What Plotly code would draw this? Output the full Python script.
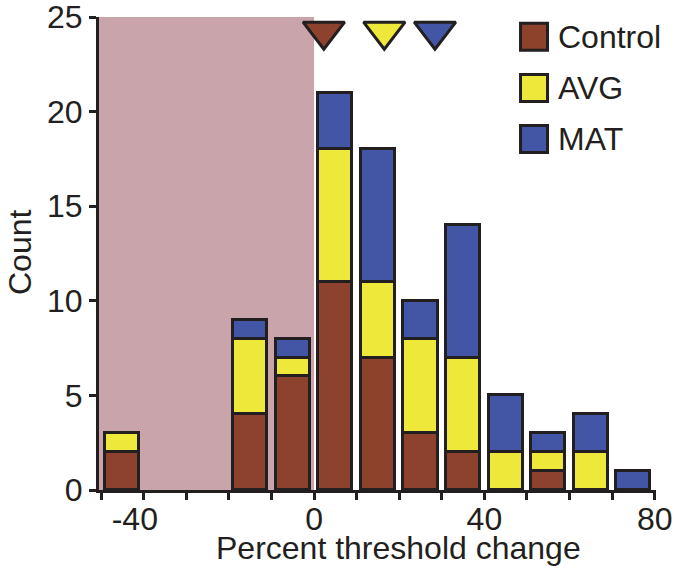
import plotly.graph_objects as go

# ---- data ----
bin_centers = [-45, -35, -25, -15, -5, 5, 15, 25, 35, 45, 55, 65, 75]
control = [2, 0, 0, 4, 6, 11, 7, 3, 2, 0, 1, 0, 0]
avg =     [1, 0, 0, 4, 1, 7, 4, 5, 5, 2, 1, 2, 0]
mat =     [0, 0, 0, 1, 1, 3, 7, 2, 7, 3, 1, 2, 1]
series_names = ["Control", "AVG", "MAT"]
mean_shift = [2.3, 16.5, 28.4]          # triangle markers (group means)
mean_marker_y = [24.25, 24.25, 24.25]
x_tick_vals = [-40, 0, 40, 80]
x_tick_text = ["-40\u2007", "0", "40", "80"]
y_tick_vals = [0, 5, 10, 15, 20, 25]
shaded_region = [-50.5, 0]              # decrease region (x from, x to)

colors = ["#8C422C", "#EEE83A", "#4256A5"]
outline = "#231F20"
pink = "#C9A4AA"
FONT = "Liberation Sans, Arial, sans-serif"
FS = 32

fig = go.Figure()

for name, vals, col in zip(series_names, [control, avg, mat], colors):
    fig.add_trace(go.Bar(
        x=bin_centers, y=[v if v else None for v in vals], name=name, width=8,
        marker=dict(color=col, line=dict(color=outline, width=3)),
        showlegend=False, hoverinfo="skip",
    ))

fig.add_trace(go.Scatter(
    x=mean_shift, y=mean_marker_y, mode="markers",
    marker=dict(symbol="triangle-down", size=36, color=colors,
                line=dict(color=outline, width=3)),
    cliponaxis=False, showlegend=False, hoverinfo="skip",
))

# custom legend on overlay axes
leg_y = [0.958, 0.850, 0.742]
fig.add_trace(go.Scatter(
    x=[0.781] * 3, y=leg_y,
    xaxis="x2", yaxis="y2", mode="markers",
    marker=dict(symbol="square", size=27, color=colors,
                line=dict(color=outline, width=3)),
    cliponaxis=False, showlegend=False, hoverinfo="skip",
))
annotations = [dict(text=n, xref="x2", yref="y2", x=0.820, y=yy,
                    xanchor="left", yanchor="middle", showarrow=False,
                    font=dict(family=FONT, size=FS, color=outline))
               for n, yy in zip(series_names, leg_y)]

annotations.append(dict(text="Percent threshold change", xref="paper", yref="paper",
                        x=0.537, y=-0.122, xanchor="center", yanchor="middle",
                        showarrow=False,
                        font=dict(family=FONT, size=FS, color=outline)))
annotations.append(dict(text="Count", xref="paper", yref="paper", textangle=-90,
                        x=-0.142, y=0.503, xanchor="center", yanchor="middle",
                        showarrow=False,
                        font=dict(family=FONT, size=FS, color=outline)))

fig.add_shape(type="rect", xref="x", yref="y",
              x0=shaded_region[0], x1=shaded_region[1], y0=0, y1=25,
              fillcolor=pink, line=dict(width=0), layer="below")

fig.update_layout(
    width=675, height=577,
    margin=dict(l=99, r=19, t=17, b=87),
    paper_bgcolor="white", plot_bgcolor="white",
    barmode="stack", bargap=0,
    font=dict(family=FONT, size=FS, color=outline),
    xaxis=dict(range=[-50.5, 80.3], tickvals=x_tick_vals, ticktext=x_tick_text,
               ticks="outside", ticklen=7, tickwidth=3, tickcolor=outline,
               minor=dict(dtick=10, tick0=0, ticks="outside", ticklen=7,
                          tickwidth=3, tickcolor=outline),
               ticklabelstandoff=-8, ticklabeloverflow="allow",
               showline=True, linewidth=3, linecolor=outline,
               showgrid=False, zeroline=False, automargin=False,
               tickfont=dict(family=FONT, size=FS, color=outline)),
    yaxis=dict(range=[0, 25], tickvals=y_tick_vals,
               ticks="outside", ticklen=7, tickwidth=3, tickcolor=outline,
               ticklabeloverflow="allow",
               showline=True, linewidth=3, linecolor=outline,
               showgrid=False, zeroline=False, automargin=False,
               tickfont=dict(family=FONT, size=FS, color=outline)),
    xaxis2=dict(overlaying="x", range=[0, 1], visible=False),
    yaxis2=dict(overlaying="y", range=[0, 1], visible=False),
    annotations=annotations,
)

# remove the browser's default 8px body margin so the figure fills the window
fig.write_html("out.html",
               config={"displayModeBar": False},
               post_script="document.body.style.margin='0';"
                           "document.body.style.overflow='hidden';")
